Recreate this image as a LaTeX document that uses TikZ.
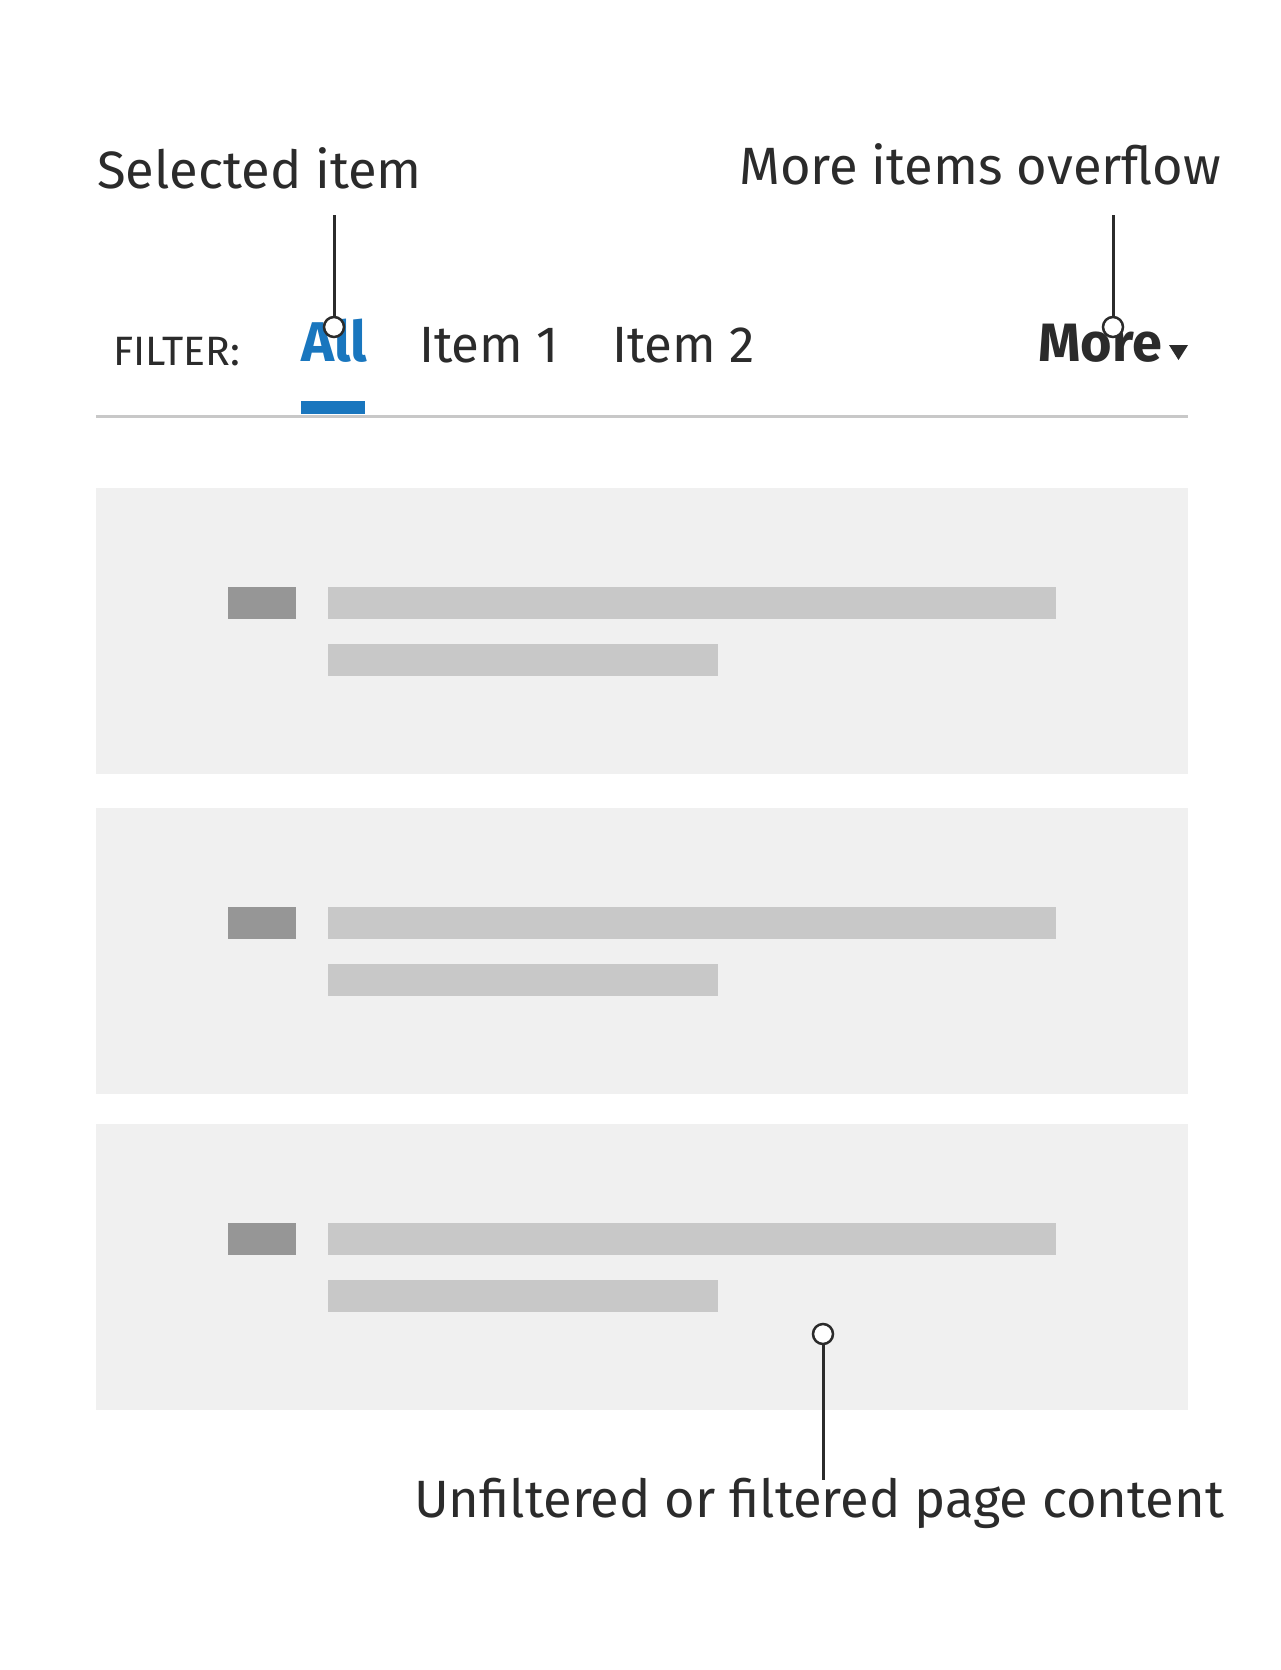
\documentclass[tikz,border=0pt]{standalone}
\usepackage{fontspec}
\setmainfont{Fira Sans}
\usepackage{tikz}
\definecolor{ink}{RGB}{43,43,43}
\definecolor{tabblue}{RGB}{25,118,190}
\definecolor{cardgrey}{RGB}{240,240,240}
\definecolor{bargrey}{RGB}{200,200,200}
\definecolor{icongrey}{RGB}{150,150,150}
\def\cardh{286}
\tikzstyle{callout}=[anchor=base west, inner sep=0pt, text=ink, font=\fontsize{52.5}{60}\selectfont]
\tikzstyle{tab item}=[callout, font=\fontsize{51}{60}\selectfont]
\tikzstyle{leader}=[draw=ink, line width=3pt]
\tikzstyle{pin dot}=[circle, draw=ink, fill=white, line width=2.5pt, minimum size=20pt, inner sep=0pt]
\tikzstyle{card}=[fill=cardgrey]
\tikzstyle{bar}=[fill=bargrey]
\tikzstyle{icon}=[fill=icongrey]

\begin{document}
\begin{tikzpicture}[x=1pt, y=-1pt]

			\useasboundingbox[fill=white] (0,0) rectangle (1280,1670);

			% Draw the content cards
			\foreach \name / \y in {1/488, 2/808, 3/1124} {
			\fill[card] (96,\y) rectangle (1188,\y+\cardh);
			\fill[icon] (228,\y+99) rectangle (296,\y+131);
			\fill[bar] (328,\y+99) rectangle (1056,\y+131);
			\fill[bar] (328,\y+156) rectangle (718,\y+188);
			}

			% Draw the filter bar
			\node[callout, font=\fontsize{41}{45}\selectfont] (filter) at (113,365) {FILTER:};
			\node[tab item, text=tabblue, font=\fontsize{56}{60}\bfseries\selectfont] (all) at (301,361) {All};
			\node[tab item] (item1) at (419,362) {Item 1};
			\node[tab item] (item2) at (612,362) {Item 2};
			\node[tab item, font=\fontsize{54}{60}\bfseries\selectfont] (more) at (1038,361) {More};
			\fill[ink] (1169,345) -- (1188,345) -- (1178.5,360) -- cycle;
			\fill[bargrey] (96,414.5) rectangle (1188,417.5);
			\fill[tabblue] (301,401) rectangle (365,414);

			% Annotate the picture
			\node[callout] (sel) at (97,188) {Selected item};
			\node[callout] (over) at (739,184) {More items overflow};
			\node[callout] (page) at (414,1517) {Unfiltered or filtered page content};

			% Connect the annotations with leaders
			\coordinate (sel top) at (334,215);
			\coordinate (over top) at (1113,215);
			\coordinate (page foot) at (823,1480);
			\node[pin dot] (sel dot) at (334,327) {};
			\node[pin dot] (over dot) at (1113,327) {};
			\node[pin dot] (page dot) at (823,1334) {};
			\path[leader] (sel top) -- (sel dot);
			\path[leader] (over top) -- (over dot);
			\path[leader] (page dot) -- (page foot);
		\end{tikzpicture}
\end{document}
